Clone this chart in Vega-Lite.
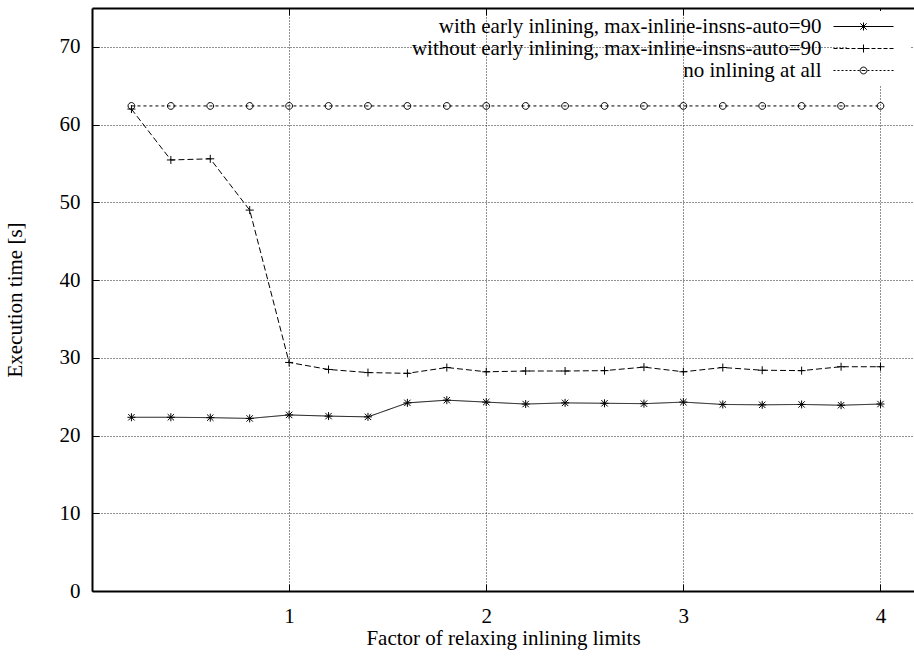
{
  "$schema": "https://vega.github.io/schema/vega-lite/v6.json",
  "width": 822,
  "height": 583,
  "autosize": {"type": "none"},
  "padding": {"left": 92, "top": 8, "right": 0, "bottom": 65},
  "background": "white",
  "config": {
    "font": "Liberation Serif",
    "view": {"stroke": null},
    "axis": {
      "domainColor": "black",
      "domainWidth": 2,
      "tickColor": "black",
      "tickWidth": 1,
      "tickSize": -7,
      "labelFont": "Liberation Serif",
      "labelFontSize": 21,
      "labelColor": "black",
      "titleFont": "Liberation Serif",
      "titleFontSize": 21,
      "titleFontWeight": "normal",
      "titleColor": "black",
      "gridColor": "#222",
      "gridDash": [1, 2],
      "gridWidth": 1
    },
    "legend": {
      "labelFont": "Liberation Serif",
      "labelFontSize": 21,
      "labelColor": "black",
      "fillColor": "white",
      "zindex": 1
    }
  },
  "data": {
    "values": [
      {"x": 0.2, "series": "with early inlining, max-inline-insns-auto=90", "y": 22.35},
      {"x": 0.4, "series": "with early inlining, max-inline-insns-auto=90", "y": 22.35},
      {"x": 0.6, "series": "with early inlining, max-inline-insns-auto=90", "y": 22.3},
      {"x": 0.8, "series": "with early inlining, max-inline-insns-auto=90", "y": 22.2},
      {"x": 1.0, "series": "with early inlining, max-inline-insns-auto=90", "y": 22.65},
      {"x": 1.2, "series": "with early inlining, max-inline-insns-auto=90", "y": 22.5},
      {"x": 1.4, "series": "with early inlining, max-inline-insns-auto=90", "y": 22.4},
      {"x": 1.6, "series": "with early inlining, max-inline-insns-auto=90", "y": 24.2},
      {"x": 1.8, "series": "with early inlining, max-inline-insns-auto=90", "y": 24.55},
      {"x": 2.0, "series": "with early inlining, max-inline-insns-auto=90", "y": 24.3},
      {"x": 2.2, "series": "with early inlining, max-inline-insns-auto=90", "y": 24.05},
      {"x": 2.4, "series": "with early inlining, max-inline-insns-auto=90", "y": 24.2},
      {"x": 2.6, "series": "with early inlining, max-inline-insns-auto=90", "y": 24.15},
      {"x": 2.8, "series": "with early inlining, max-inline-insns-auto=90", "y": 24.1},
      {"x": 3.0, "series": "with early inlining, max-inline-insns-auto=90", "y": 24.3},
      {"x": 3.2, "series": "with early inlining, max-inline-insns-auto=90", "y": 24.0},
      {"x": 3.4, "series": "with early inlining, max-inline-insns-auto=90", "y": 23.95},
      {"x": 3.6, "series": "with early inlining, max-inline-insns-auto=90", "y": 24.0},
      {"x": 3.8, "series": "with early inlining, max-inline-insns-auto=90", "y": 23.9},
      {"x": 4.0, "series": "with early inlining, max-inline-insns-auto=90", "y": 24.05},
      {"x": 0.2, "series": "without early inlining, max-inline-insns-auto=90", "y": 62.0},
      {"x": 0.4, "series": "without early inlining, max-inline-insns-auto=90", "y": 55.45},
      {"x": 0.6, "series": "without early inlining, max-inline-insns-auto=90", "y": 55.6},
      {"x": 0.8, "series": "without early inlining, max-inline-insns-auto=90", "y": 49.0},
      {"x": 1.0, "series": "without early inlining, max-inline-insns-auto=90", "y": 29.4},
      {"x": 1.2, "series": "without early inlining, max-inline-insns-auto=90", "y": 28.5},
      {"x": 1.4, "series": "without early inlining, max-inline-insns-auto=90", "y": 28.1},
      {"x": 1.6, "series": "without early inlining, max-inline-insns-auto=90", "y": 28.0},
      {"x": 1.8, "series": "without early inlining, max-inline-insns-auto=90", "y": 28.75},
      {"x": 2.0, "series": "without early inlining, max-inline-insns-auto=90", "y": 28.2},
      {"x": 2.2, "series": "without early inlining, max-inline-insns-auto=90", "y": 28.3},
      {"x": 2.4, "series": "without early inlining, max-inline-insns-auto=90", "y": 28.3},
      {"x": 2.6, "series": "without early inlining, max-inline-insns-auto=90", "y": 28.35},
      {"x": 2.8, "series": "without early inlining, max-inline-insns-auto=90", "y": 28.8},
      {"x": 3.0, "series": "without early inlining, max-inline-insns-auto=90", "y": 28.2},
      {"x": 3.2, "series": "without early inlining, max-inline-insns-auto=90", "y": 28.75},
      {"x": 3.4, "series": "without early inlining, max-inline-insns-auto=90", "y": 28.4},
      {"x": 3.6, "series": "without early inlining, max-inline-insns-auto=90", "y": 28.35},
      {"x": 3.8, "series": "without early inlining, max-inline-insns-auto=90", "y": 28.85},
      {"x": 4.0, "series": "without early inlining, max-inline-insns-auto=90", "y": 28.85},
      {"x": 0.2, "series": "no inlining at all", "y": 62.4},
      {"x": 0.4, "series": "no inlining at all", "y": 62.4},
      {"x": 0.6, "series": "no inlining at all", "y": 62.4},
      {"x": 0.8, "series": "no inlining at all", "y": 62.4},
      {"x": 1.0, "series": "no inlining at all", "y": 62.4},
      {"x": 1.2, "series": "no inlining at all", "y": 62.4},
      {"x": 1.4, "series": "no inlining at all", "y": 62.4},
      {"x": 1.6, "series": "no inlining at all", "y": 62.4},
      {"x": 1.8, "series": "no inlining at all", "y": 62.4},
      {"x": 2.0, "series": "no inlining at all", "y": 62.4},
      {"x": 2.2, "series": "no inlining at all", "y": 62.4},
      {"x": 2.4, "series": "no inlining at all", "y": 62.4},
      {"x": 2.6, "series": "no inlining at all", "y": 62.4},
      {"x": 2.8, "series": "no inlining at all", "y": 62.4},
      {"x": 3.0, "series": "no inlining at all", "y": 62.4},
      {"x": 3.2, "series": "no inlining at all", "y": 62.4},
      {"x": 3.4, "series": "no inlining at all", "y": 62.4},
      {"x": 3.6, "series": "no inlining at all", "y": 62.4},
      {"x": 3.8, "series": "no inlining at all", "y": 62.4},
      {"x": 4.0, "series": "no inlining at all", "y": 62.4}
    ]
  },
  "resolve": {"axis": {"x": "independent"}, "scale": {"shape": "independent"}},
  "layer": [
    {
      "mark": {"type": "line", "color": "black", "strokeWidth": 1},
      "encoding": {
        "x": {
          "field": "x", "type": "quantitative",
          "scale": {"domain": [0, 4.17], "nice": false, "zero": false},
          "axis": {"orient": "bottom", "values": [1, 2, 3, 4], "grid": true, "title": "Factor of relaxing inlining limits", "labelPadding": 21, "titlePadding": 1}
        },
        "y": {
          "field": "y", "type": "quantitative",
          "scale": {"domain": [0, 75], "nice": false},
          "axis": {"values": [0, 10, 20, 30, 40, 50, 60, 70], "grid": true, "title": "Execution time [s]", "labelPadding": 19, "titlePadding": 34}
        },
        "strokeDash": {
          "field": "series", "type": "nominal",
          "scale": {
            "domain": ["with early inlining, max-inline-insns-auto=90", "without early inlining, max-inline-insns-auto=90", "no inlining at all"],
            "range": [[1, 0], [6, 3], [3, 3]]
          },
          "legend": null
        }
      }
    },
    {
      "mark": {"type": "point", "filled": false, "color": "black", "strokeWidth": 1, "size": 64, "opacity": 1},
      "encoding": {
        "x": {
          "field": "x", "type": "quantitative",
          "scale": {"domain": [0, 4.17], "nice": false, "zero": false},
          "axis": {"orient": "top", "values": [1, 2, 3, 4], "labels": false, "grid": false, "title": null}
        },
        "y": {
          "field": "y", "type": "quantitative",
          "scale": {"domain": [0, 75], "nice": false},
          "axis": {"values": [0, 10, 20, 30, 40, 50, 60, 70], "grid": true, "title": "Execution time [s]", "labelPadding": 19, "titlePadding": 34}
        },
        "shape": {
          "field": "series", "type": "nominal",
          "scale": {
            "domain": ["with early inlining, max-inline-insns-auto=90", "without early inlining, max-inline-insns-auto=90", "no inlining at all"],
            "range": ["M-1,0L1,0M0,-1L0,1M-0.8,-0.8L0.8,0.8M-0.8,0.8L0.8,-0.8", "M-1,0L1,0M0,-1L0,1", "M0.85,0A0.85,0.85 0 1,1 -0.85,0A0.85,0.85 0 1,1 0.85,0"]
          },
          "legend": null
        }
      }
    },
    {
      "mark": {"type": "point", "filled": false, "color": "black", "strokeWidth": 1, "size": 64, "opacity": 0},
      "encoding": {
        "x": {"field": "x", "type": "quantitative", "axis": null},
        "y": {
          "field": "y", "type": "quantitative",
          "scale": {"domain": [0, 75], "nice": false},
          "axis": {"values": [0, 10, 20, 30, 40, 50, 60, 70], "grid": true, "title": "Execution time [s]", "labelPadding": 19, "titlePadding": 34}
        },
        "shape": {
          "field": "series", "type": "nominal",
          "scale": {
            "domain": ["with early inlining, max-inline-insns-auto=90", "without early inlining, max-inline-insns-auto=90", "no inlining at all"],
            "range": [
              "M-163,0M-7.5,0L7.5,0M0,-1L0,1M-0.8,-0.8L0.8,0.8M-0.8,0.8L0.8,-0.8M10,0",
              "M-163,0M-7.5,0L-6.5,0M-6,0L-5,0M-4.5,0L-3.5,0M-3,0L-2,0M-1.5,0L1.5,0M2,0L3,0M3.5,0L4.5,0M5,0L6,0M6.5,0L7.5,0M0,-1L0,1M10,0",
              "M-163,0M-7.5,0L-7,0M-6.5,0L-6,0M-5.5,0L-5,0M-4.5,0L-4,0M-3.5,0L-3,0M-2.5,0L-2,0M-1.5,0L-1,0M-0.5,0L0.5,0M1,0L1.5,0M2,0L2.5,0M3,0L3.5,0M4,0L4.5,0M5,0L5.5,0M6,0L6.5,0M7,0L7.5,0M0.85,0A0.85,0.85 0 1,1 -0.85,0A0.85,0.85 0 1,1 0.85,0M10,0"
            ]
          },
          "legend": {
            "title": null,
            "orient": "top-right",
            "offset": 3,
            "padding": 5,
            "fillColor": "white",
            "zindex": 1,
            "rowPadding": 0,
            "labelAlign": "right",
            "labelOffset": -52.5,
            "labelLimit": 700,
            "labelFont": "Liberation Serif",
            "labelFontSize": 21,
            "labelColor": "black",
            "symbolSize": 64,
            "symbolOpacity": 1,
            "symbolStrokeWidth": 1,
            "symbolStrokeColor": "black",
            "symbolFillColor": "transparent"
          }
        }
      }
    }
  ]
}
